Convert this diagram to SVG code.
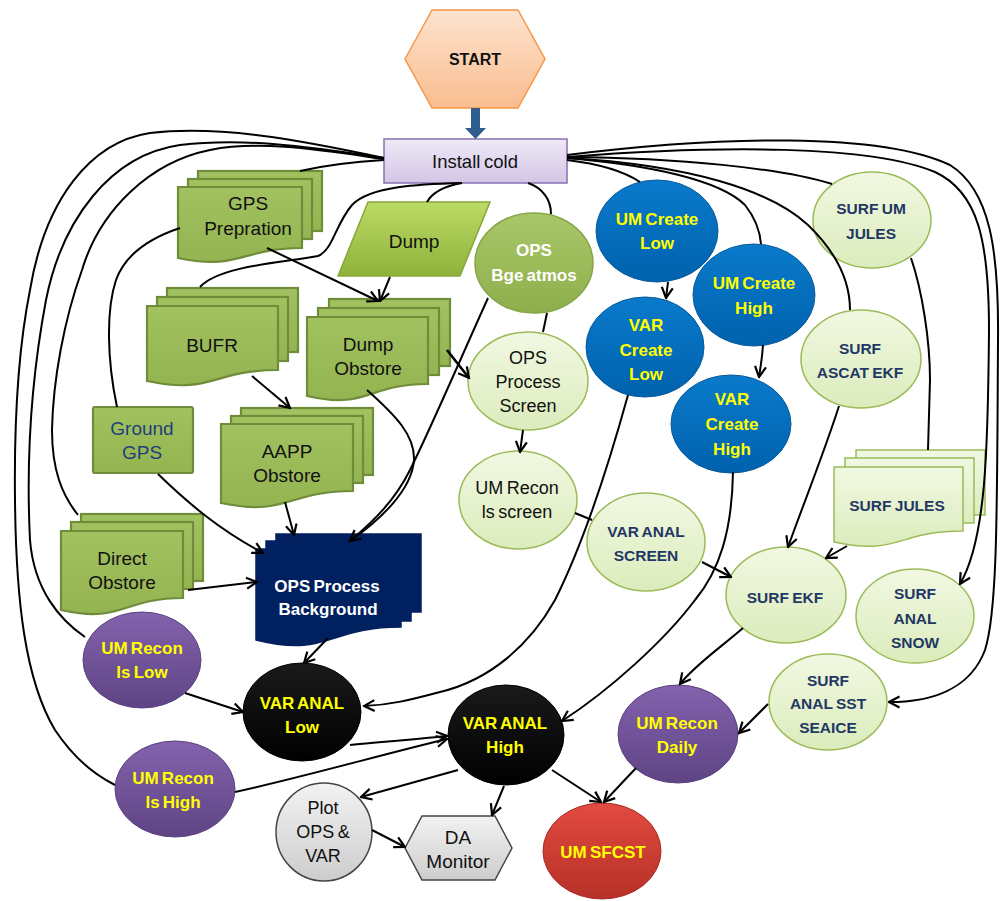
<svg xmlns="http://www.w3.org/2000/svg" width="1001" height="901" viewBox="0 0 1001 901">
<defs>
<linearGradient id="gStart" x1="0" y1="0" x2="0" y2="1"><stop offset="0" stop-color="#fde3cf"/><stop offset="1" stop-color="#f9bd8f"/></linearGradient>
<linearGradient id="gInst" x1="0" y1="0" x2="0" y2="1"><stop offset="0" stop-color="#efe9f7"/><stop offset="1" stop-color="#d3c6e6"/></linearGradient>
<linearGradient id="gDoc" x1="0" y1="0" x2="0" y2="1"><stop offset="0" stop-color="#a2c160"/><stop offset="1" stop-color="#93b451"/></linearGradient>
<linearGradient id="gDump" x1="0" y1="0" x2="0" y2="1"><stop offset="0" stop-color="#bcda66"/><stop offset="1" stop-color="#8db23a"/></linearGradient>
<linearGradient id="gBge" x1="0" y1="0" x2="0" y2="1"><stop offset="0" stop-color="#a9c768"/><stop offset="1" stop-color="#8eae4c"/></linearGradient>
<linearGradient id="gLight" x1="0" y1="0" x2="0" y2="1"><stop offset="0" stop-color="#f1f8e2"/><stop offset="1" stop-color="#dcecbc"/></linearGradient>
<linearGradient id="gBlue" x1="0" y1="0" x2="0" y2="1"><stop offset="0" stop-color="#0a7acb"/><stop offset="1" stop-color="#0062ad"/></linearGradient>
<linearGradient id="gPur" x1="0" y1="0" x2="0" y2="1"><stop offset="0" stop-color="#8462ad"/><stop offset="1" stop-color="#5e4484"/></linearGradient>
<linearGradient id="gRed" x1="0" y1="0" x2="0" y2="1"><stop offset="0" stop-color="#e24b40"/><stop offset="1" stop-color="#b73027"/></linearGradient>
<linearGradient id="gGray" x1="0" y1="0" x2="0" y2="1"><stop offset="0" stop-color="#f2f2f2"/><stop offset="1" stop-color="#cdcdcd"/></linearGradient>
<linearGradient id="gBlack" x1="0" y1="0" x2="0" y2="1"><stop offset="0" stop-color="#1a1a1a"/><stop offset="1" stop-color="#000"/></linearGradient>
<marker id="arr" viewBox="0 0 14 14" refX="12.5" refY="7" markerWidth="14" markerHeight="14" orient="auto" markerUnits="userSpaceOnUse">
<path d="M2,1.5 L12.5,7 L2,12.5" fill="none" stroke="#000" stroke-width="2.2" stroke-linejoin="miter"/>
</marker>
<style>
.c{fill:none;stroke:#000;stroke-width:2}
.a{marker-end:url(#arr)}
.doc{fill:url(#gDoc);stroke:#6f8c3a;stroke-width:2.2}
.navy{fill:#002060;stroke:#002060;stroke-width:1.5}
.sj{fill:url(#gLight);stroke:#9bbb59;stroke-width:1.5}
.lg{fill:url(#gLight);stroke:#9bbb59;stroke-width:1.5}
.bl{fill:url(#gBlue);stroke:#0a5a9a;stroke-width:1}
.pu{fill:url(#gPur);stroke:#5a4280;stroke-width:1}
.bk{fill:url(#gBlack);stroke:#000;stroke-width:1}
text{font-family:"Liberation Sans",Arial,sans-serif;text-anchor:middle;dominant-baseline:central}
.r{font-size:19px;fill:#111;word-spacing:-1.5px}
.rs{font-size:18px;fill:#111;word-spacing:-1.5px}
.gn{font-size:19px;fill:#1f3f7a}
.by{font-size:17px;font-weight:bold;fill:#ffff00;word-spacing:-1.5px}
.bw{font-size:17px;font-weight:bold;fill:#ffffff;word-spacing:-1.5px}
.bn{font-size:15.5px;font-weight:bold;fill:#1f3864;word-spacing:-1px}
</style>
</defs>
<rect width="1001" height="901" fill="#ffffff"/>

<g id="start">
<polygon points="405,59 432,10 518,10 545,59 518,108 432,108" fill="url(#gStart)" stroke="#f79646" stroke-width="1.5"/>
<text x="475" y="59" style="font-size:16px;font-weight:bold;fill:#111">START</text>
</g>
<g id="install-cold">
<rect x="384" y="139" width="183" height="44" fill="url(#gInst)" stroke="#8a70b0" stroke-width="1.5"/>
<text x="475" y="161" class="rs" style="font-size:18.5px">Install cold</text>
</g>
<g id="gps-prepration">
<rect x="198" y="171" width="124" height="60" class="doc"/>
<rect x="188" y="179" width="124" height="60" class="doc"/>
<path d="M178,187 H302 V248 C240,248 240,271 178,258 Z" class="doc"/>
<text x="248" y="203" class="r">GPS</text>
<text x="248" y="228" class="r">Prepration</text>
</g>
<g id="dump">
<polygon points="368,202 490,202 460,276 338,276" fill="url(#gDump)" stroke="#88a83a" stroke-width="1.5"/>
<text x="414" y="241" class="r">Dump</text>
</g>
<g id="ops-bge-atmos">
<ellipse cx="534" cy="263" rx="59" ry="50" fill="url(#gBge)" stroke="#86a548" stroke-width="1.5"/>
<text x="534" y="250" class="bw">OPS</text>
<text x="534" y="275" class="bw">Bge atmos</text>
</g>
<g id="bufr">
<rect x="167" y="288" width="131" height="64" class="doc"/>
<rect x="157" y="297" width="131" height="64" class="doc"/>
<path d="M147,306 H278 V370 C212,370 212,395 147,381 Z" class="doc"/>
<text x="212" y="345" class="r">BUFR</text>
</g>
<g id="dump-obstore">
<rect x="329" y="299" width="121" height="67" class="doc"/>
<rect x="318" y="308" width="121" height="67" class="doc"/>
<path d="M307,317 H428 V384 C367,384 367,410 307,396 Z" class="doc"/>
<text x="368" y="344" class="r">Dump</text>
<text x="368" y="368" class="r">Obstore</text>
</g>
<g id="ground-gps">
<rect x="93" y="407" width="100" height="66" rx="2" class="doc"/>
<text x="142" y="428" class="gn">Ground</text>
<text x="142" y="452" class="gn">GPS</text>
</g>
<g id="aapp-obstore">
<rect x="241" y="408" width="132" height="67" class="doc"/>
<rect x="231" y="416" width="132" height="67" class="doc"/>
<path d="M221,424 H353 V491 C287,491 287,517 221,503 Z" class="doc"/>
<text x="287" y="451" class="r">AAPP</text>
<text x="287" y="475" class="r">Obstore</text>
</g>
<g id="direct-obstore">
<rect x="81" y="514" width="122" height="67" class="doc"/>
<rect x="71" y="522" width="122" height="67" class="doc"/>
<path d="M61,531 H183 V598 C122,598 122,624 61,610 Z" class="doc"/>
<text x="122" y="558" class="r">Direct</text>
<text x="122" y="582" class="r">Obstore</text>
</g>
<g id="ops-process-background">
<rect x="276" y="534" width="145" height="78" class="navy"/>
<rect x="266" y="541" width="145" height="80" class="navy"/>
<path d="M256,549 H401 V627 C328,627 328,658 256,640 Z" class="navy"/>
<text x="327" y="586" class="bw">OPS Process</text>
<text x="328" y="609" class="bw">Background</text>
</g>
<g id="ops-process-screen">
<ellipse cx="528" cy="381" rx="60" ry="49" class="lg"/>
<text x="528" y="358" class="rs">OPS</text>
<text x="528" y="382" class="rs">Process</text>
<text x="528" y="406" class="rs">Screen</text>
</g>
<g id="um-recon-ls-screen">
<ellipse cx="518" cy="500" rx="59" ry="49" class="lg"/>
<text x="517" y="488" class="rs">UM Recon</text>
<text x="517" y="512" class="rs">ls screen</text>
</g>
<g id="um-create-low">
<ellipse cx="657" cy="231" rx="61" ry="51" class="bl"/>
<text x="657" y="219" class="by">UM Create</text>
<text x="657" y="243" class="by">Low</text>
</g>
<g id="um-create-high">
<ellipse cx="754" cy="295" rx="61" ry="51" class="bl"/>
<text x="754" y="283" class="by">UM Create</text>
<text x="754" y="308" class="by">High</text>
</g>
<g id="var-create-low">
<ellipse cx="645" cy="347" rx="59" ry="50" class="bl"/>
<text x="646" y="325" class="by">VAR</text>
<text x="646" y="350" class="by">Create</text>
<text x="646" y="374" class="by">Low</text>
</g>
<g id="var-create-high">
<ellipse cx="731" cy="424" rx="60" ry="49" class="bl"/>
<text x="732" y="399" class="by">VAR</text>
<text x="732" y="424" class="by">Create</text>
<text x="732" y="449" class="by">High</text>
</g>
<g id="var-anal-screen">
<ellipse cx="646" cy="542" rx="59" ry="49" class="lg"/>
<text x="646" y="531" class="bn">VAR ANAL</text>
<text x="646" y="555" class="bn">SCREEN</text>
</g>
<g id="surf-um-jules">
<ellipse cx="872" cy="220" rx="59" ry="48" class="lg"/>
<text x="871" y="208" class="bn">SURF UM</text>
<text x="871" y="233" class="bn">JULES</text>
</g>
<g id="surf-ascat-ekf">
<ellipse cx="861" cy="359" rx="60" ry="49" class="lg"/>
<text x="860" y="348" class="bn">SURF</text>
<text x="860" y="372" class="bn">ASCAT EKF</text>
</g>
<g id="surf-jules">
<rect x="856" y="450" width="129" height="65" class="sj"/>
<rect x="845" y="458" width="129" height="65" class="sj"/>
<path d="M834,467 H963 V531 C898,531 898,556 834,542 Z" class="sj"/>
<text x="897" y="505" class="bn">SURF JULES</text>
</g>
<g id="surf-ekf">
<ellipse cx="786" cy="595" rx="60" ry="48" class="lg"/>
<text x="785" y="597" class="bn">SURF EKF</text>
</g>
<g id="surf-anal-snow">
<ellipse cx="915" cy="616" rx="59" ry="47" class="lg"/>
<text x="915" y="593" class="bn">SURF</text>
<text x="915" y="618" class="bn">ANAL</text>
<text x="915" y="642" class="bn">SNOW</text>
</g>
<g id="surf-anal-sst-seaice">
<ellipse cx="828" cy="702" rx="59" ry="48" class="lg"/>
<text x="828" y="680" class="bn">SURF</text>
<text x="828" y="703" class="bn">ANAL SST</text>
<text x="828" y="727" class="bn">SEAICE</text>
</g>
<g id="um-recon-daily">
<ellipse cx="678" cy="734" rx="60" ry="49" class="pu"/>
<text x="677" y="723" class="by">UM Recon</text>
<text x="677" y="747" class="by">Daily</text>
</g>
<g id="um-sfcst">
<ellipse cx="602" cy="851" rx="59" ry="48" fill="url(#gRed)" stroke="#a82a22" stroke-width="1"/>
<text x="603" y="852" class="by">UM SFCST</text>
</g>
<g id="var-anal-high">
<ellipse cx="506" cy="735" rx="58" ry="50" class="bk"/>
<text x="505" y="723" class="by">VAR ANAL</text>
<text x="505" y="747" class="by">High</text>
</g>
<g id="var-anal-low">
<ellipse cx="302" cy="712" rx="59" ry="49" class="bk"/>
<text x="302" y="703" class="by">VAR ANAL</text>
<text x="302" y="727" class="by">Low</text>
</g>
<g id="um-recon-ls-low">
<ellipse cx="142" cy="660" rx="59" ry="48" class="pu"/>
<text x="142" y="648" class="by">UM Recon</text>
<text x="142" y="672" class="by">ls Low</text>
</g>
<g id="um-recon-ls-high">
<ellipse cx="175" cy="789" rx="60" ry="48" class="pu"/>
<text x="173" y="778" class="by">UM Recon</text>
<text x="173" y="802" class="by">ls High</text>
</g>
<g id="plot-ops-var">
<ellipse cx="324" cy="832" rx="48" ry="49" fill="url(#gGray)" stroke="#444" stroke-width="1.5"/>
<text x="323" y="808" class="rs">Plot</text>
<text x="323" y="832" class="rs">OPS &amp;</text>
<text x="323" y="856" class="rs">VAR</text>
</g>
<g id="da-monitor">
<polygon points="405,848 422,816 495,816 512,848 495,880 422,880" fill="url(#gGray)" stroke="#444" stroke-width="1.5"/>
<text x="458" y="837" class="r">DA</text>
<text x="458" y="861" class="r">Monitor</text>
</g>

<g id="connectors">
<path d="M471,108 H480 V128 H486 L475.5,139 L465,128 H471 Z" fill="#2f5c8f"/>
<path class="c" d="M384,158 C300,140 220,125 150,133 C90,142 45,200 30,290 C18,350 14,420 15,500 C16,600 25,680 55,730 C75,760 95,775 115,785"/>
<path class="c" d="M384,158 C300,145 240,138 180,145 C110,155 62,220 46,300 C31,380 26,460 30,540 C34,590 60,620 85,637"/>
<path class="c" d="M384,159 C320,150 260,140 210,150 C150,162 100,210 82,270 C64,320 53,380 52,430 C52,470 62,495 78,515"/>
<path class="c" d="M384,160 C350,162 322,166 300,171"/>
<path class="c" d="M180,228 C150,238 125,255 116,280 C106,310 107,360 117,407"/>
<path class="c" d="M462,183 C420,184 370,186 352,205 C335,225 333,250 318,256 C290,262 220,265 200,287"/>
<path class="c" d="M462,183 C445,186 432,193 427,202"/>
<path class="c" d="M528,183 C543,188 551,200 551,214"/>
<path class="c" d="M567,160 C600,164 625,172 640,182"/>
<path class="c" d="M567,158 C650,165 720,180 745,205 C757,220 760,232 761,244"/>
<path class="c" d="M567,158 C690,165 770,190 808,225 C836,252 850,280 850,310"/>
<path class="c" d="M567,157 C680,158 780,168 832,184"/>
<path class="c a" d="M567,155 C720,136 880,132 950,165 C990,190 999,250 998,340 C997,500 998,610 985,650 C970,690 930,702 889,702"/>
<path class="c a" d="M567,157 C720,145 870,145 935,172 C978,192 989,240 989,330 C988,450 986,540 960,584"/>
<path class="c" d="M911,258 C922,290 930,340 930,380 L928,450"/>
<path class="c a" d="M267,248 L378,301"/>
<path class="c a" d="M390,277 L380,301"/>
<path class="c a" d="M252,376 L290,408"/>
<path class="c a" style="stroke-width:2.6" d="M447,350 L469,378"/>
<path class="c" d="M367,390 C395,415 415,435 414,460 C412,490 380,520 350,541"/>
<path class="c a" d="M488,298 C460,360 430,430 410,470 C395,500 375,520 350,541"/>
<path class="c" d="M547,313 L543,332"/>
<path class="c a" d="M523,430 L520,452"/>
<path class="c" d="M575,513 L592,520"/>
<path class="c a" d="M702,562 L731,577"/>
<path class="c a" d="M668,282 L666,298"/>
<path class="c a" d="M763,345 C762,360 760,370 759,377"/>
<path class="c a" d="M628,395 C610,460 585,540 555,600 C530,645 490,680 440,692 C410,700 390,705 364,706"/>
<path class="c a" d="M733,472 C732,530 720,570 695,600 C665,640 610,690 562,721"/>
<path class="c a" d="M839,406 C825,450 805,500 788,547"/>
<path class="c a" d="M847,546 L826,558"/>
<path class="c a" d="M743,628 C720,648 695,665 680,684"/>
<path class="c a" d="M768,704 L739,733"/>
<path class="c a" d="M636,768 L604,802"/>
<path class="c a" d="M552,770 L601,802"/>
<path class="c a" d="M504,786 L492,815"/>
<path class="c a" d="M458,770 L361,797"/>
<path class="c a" d="M372,830 L405,847"/>
<path class="c a" d="M350,745 C380,742 410,740 447,736"/>
<path class="c a" d="M235,792 C300,778 380,755 447,739"/>
<path class="c a" d="M185,693 L243,712"/>
<path class="c a" d="M328,638 L304,663"/>
<path class="c a" d="M158,474 C190,505 220,530 263,553"/>
<path class="c a" d="M285,502 L294,535"/>
<path class="c a" d="M188,590 L257,582"/>
</g>
</svg>
